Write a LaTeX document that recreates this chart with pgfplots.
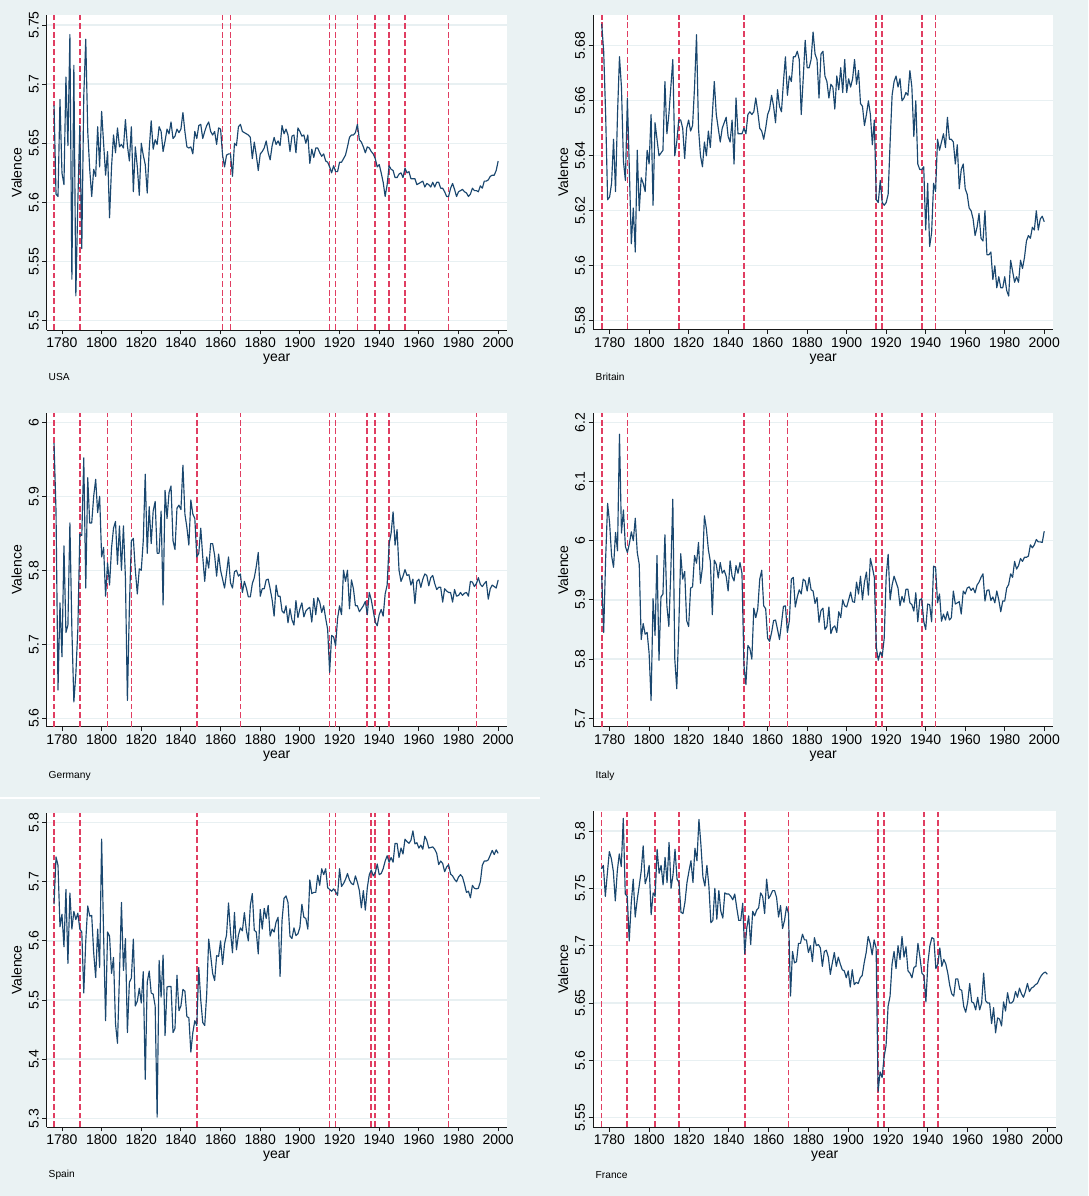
\documentclass[border=0pt]{standalone}
\usepackage{fontspec}
\setmainfont{Liberation Sans}
\usepackage{pgfplots}
\usepackage{pgfplotstable}
\pgfplotsset{compat=1.18}
\definecolor{bg}{RGB}{234,242,243}
\definecolor{gridc}{RGB}{232,240,242}
\definecolor{navyS}{RGB}{26,71,111}
\definecolor{vred}{RGB}{224,62,98}

\pgfplotstableread{
year usa bri ger ita spa fra
1776 5.682 5.688 5.972 5.940 5.662 5.767
1777 5.607 5.678 5.880 5.845 5.742 5.770
1778 5.605 5.655 5.638 5.970 5.728 5.743
1779 5.687 5.624 5.756 6.063 5.624 5.763
1780 5.625 5.625 5.683 6.030 5.645 5.782
1781 5.615 5.630 5.833 5.975 5.590 5.776
1782 5.706 5.646 5.716 5.955 5.687 5.765
1783 5.648 5.627 5.726 6.014 5.562 5.739
1784 5.742 5.655 5.864 5.983 5.681 5.765
1785 5.535 5.676 5.720 6.180 5.620 5.780
1786 5.716 5.665 5.622 6.013 5.650 5.769
1787 5.521 5.638 5.660 6.052 5.636 5.811
1788 5.600 5.631 5.720 5.990 5.647 5.745
1789 5.665 5.661 5.849 5.980 5.620 5.743
1790 5.561 5.635 5.847 5.995 5.615 5.704
1791 5.690 5.608 5.952 6.015 5.512 5.737
1792 5.738 5.621 5.776 6.000 5.600 5.758
1793 5.660 5.605 5.925 6.038 5.659 5.725
1794 5.628 5.642 5.864 5.980 5.642 5.740
1795 5.605 5.620 5.864 5.960 5.643 5.752
1796 5.628 5.632 5.900 5.833 5.580 5.765
1797 5.622 5.630 5.923 5.860 5.538 5.787
1798 5.664 5.627 5.878 5.842 5.620 5.754
1799 5.630 5.642 5.900 5.845 5.555 5.760
1800 5.677 5.637 5.818 5.810 5.772 5.770
1801 5.650 5.655 5.831 5.730 5.610 5.727
1802 5.623 5.622 5.765 5.902 5.465 5.746
1803 5.643 5.652 5.810 5.840 5.615 5.743
1804 5.587 5.646 5.780 5.975 5.608 5.784
1805 5.630 5.640 5.830 5.798 5.545 5.763
1806 5.657 5.641 5.857 5.905 5.572 5.770
1807 5.642 5.642 5.866 5.910 5.460 5.753
1808 5.663 5.667 5.808 6.010 5.427 5.777
1809 5.647 5.648 5.860 5.890 5.542 5.755
1810 5.649 5.655 5.800 5.855 5.665 5.790
1811 5.646 5.665 5.860 5.950 5.550 5.750
1812 5.670 5.675 5.790 6.070 5.604 5.762
1813 5.648 5.640 5.624 5.800 5.445 5.784
1814 5.635 5.645 5.750 5.750 5.530 5.758
1815 5.664 5.653 5.840 5.850 5.537 5.755
1816 5.609 5.653 5.843 5.978 5.603 5.729
1817 5.647 5.650 5.800 5.935 5.490 5.728
1818 5.630 5.639 5.768 5.948 5.498 5.738
1819 5.606 5.650 5.802 5.865 5.520 5.755
1820 5.650 5.653 5.800 5.855 5.495 5.765
1821 5.640 5.649 5.840 5.920 5.548 5.774
1822 5.632 5.651 5.930 5.922 5.366 5.755
1823 5.608 5.665 5.823 5.975 5.530 5.785
1824 5.645 5.684 5.886 5.962 5.549 5.774
1825 5.669 5.650 5.836 5.997 5.512 5.810
1826 5.645 5.640 5.880 5.928 5.510 5.788
1827 5.653 5.636 5.893 5.955 5.490 5.760
1828 5.649 5.645 5.823 6.042 5.302 5.752
1829 5.664 5.640 5.823 6.020 5.567 5.770
1830 5.660 5.649 5.880 5.985 5.505 5.752
1831 5.643 5.643 5.753 5.965 5.576 5.720
1832 5.652 5.655 5.908 5.875 5.440 5.722
1833 5.662 5.667 5.870 5.967 5.522 5.750
1834 5.658 5.655 5.905 5.960 5.523 5.723
1835 5.668 5.650 5.914 5.937 5.523 5.748
1836 5.654 5.645 5.840 5.963 5.445 5.730
1837 5.656 5.650 5.828 5.945 5.452 5.724
1838 5.662 5.652 5.884 5.950 5.542 5.746
1839 5.659 5.654 5.888 5.940 5.482 5.745
1840 5.662 5.647 5.882 5.915 5.490 5.745
1841 5.676 5.645 5.942 5.966 5.518 5.743
1842 5.660 5.653 5.876 5.940 5.515 5.740
1843 5.647 5.637 5.858 5.932 5.472 5.745
1844 5.646 5.661 5.834 5.958 5.470 5.733
1845 5.647 5.648 5.895 5.945 5.412 5.722
1846 5.641 5.648 5.876 5.963 5.445 5.722
1847 5.660 5.648 5.870 5.945 5.465 5.737
1848 5.654 5.650 5.818 5.790 5.457 5.693
1849 5.665 5.648 5.823 5.757 5.555 5.715
1850 5.666 5.655 5.857 5.823 5.500 5.726
1851 5.654 5.656 5.818 5.818 5.462 5.701
1852 5.660 5.655 5.785 5.800 5.457 5.730
1853 5.665 5.656 5.818 5.886 5.510 5.726
1854 5.668 5.661 5.803 5.870 5.603 5.731
1855 5.660 5.656 5.836 5.885 5.575 5.733
1856 5.657 5.650 5.836 5.935 5.545 5.746
1857 5.660 5.649 5.820 5.950 5.533 5.743
1858 5.649 5.646 5.792 5.890 5.575 5.728
1859 5.663 5.650 5.822 5.885 5.574 5.758
1860 5.662 5.655 5.800 5.835 5.600 5.741
1861 5.640 5.657 5.788 5.830 5.560 5.744
1862 5.630 5.662 5.776 5.845 5.595 5.748
1863 5.640 5.658 5.796 5.865 5.610 5.748
1864 5.641 5.652 5.818 5.866 5.664 5.742
1865 5.641 5.664 5.783 5.850 5.615 5.725
1866 5.622 5.658 5.776 5.833 5.580 5.735
1867 5.650 5.656 5.798 5.860 5.648 5.715
1868 5.648 5.667 5.800 5.889 5.585 5.722
1869 5.664 5.676 5.792 5.890 5.610 5.734
1870 5.666 5.662 5.795 5.845 5.622 5.728
1871 5.660 5.669 5.770 5.865 5.617 5.656
1872 5.659 5.667 5.785 5.935 5.648 5.695
1873 5.658 5.676 5.776 5.938 5.618 5.685
1874 5.657 5.676 5.764 5.888 5.600 5.686
1875 5.655 5.678 5.764 5.905 5.660 5.702
1876 5.637 5.675 5.782 5.917 5.680 5.702
1877 5.651 5.655 5.790 5.910 5.618 5.710
1878 5.640 5.668 5.805 5.935 5.615 5.705
1879 5.627 5.682 5.824 5.932 5.578 5.705
1880 5.641 5.672 5.765 5.915 5.653 5.694
1881 5.643 5.672 5.775 5.938 5.620 5.700
1882 5.646 5.675 5.775 5.917 5.655 5.686
1883 5.652 5.685 5.787 5.915 5.638 5.707
1884 5.642 5.677 5.788 5.894 5.660 5.700
1885 5.636 5.675 5.775 5.904 5.608 5.701
1886 5.648 5.661 5.760 5.862 5.620 5.698
1887 5.655 5.677 5.738 5.882 5.615 5.682
1888 5.649 5.678 5.780 5.886 5.632 5.695
1889 5.652 5.669 5.765 5.850 5.640 5.696
1890 5.648 5.667 5.765 5.855 5.540 5.690
1891 5.665 5.661 5.745 5.888 5.635 5.675
1892 5.658 5.666 5.742 5.843 5.672 5.685
1893 5.662 5.665 5.752 5.853 5.676 5.694
1894 5.657 5.657 5.729 5.856 5.665 5.682
1895 5.643 5.669 5.748 5.845 5.608 5.690
1896 5.656 5.664 5.733 5.880 5.604 5.684
1897 5.657 5.672 5.726 5.870 5.622 5.679
1898 5.642 5.663 5.759 5.900 5.609 5.678
1899 5.663 5.675 5.736 5.890 5.612 5.672
1900 5.660 5.663 5.748 5.888 5.623 5.678
1901 5.656 5.668 5.756 5.900 5.662 5.664
1902 5.657 5.665 5.737 5.913 5.640 5.679
1903 5.650 5.668 5.745 5.897 5.638 5.666
1904 5.657 5.675 5.748 5.896 5.620 5.668
1905 5.633 5.666 5.750 5.930 5.703 5.667
1906 5.645 5.671 5.730 5.910 5.680 5.672
1907 5.638 5.659 5.762 5.940 5.682 5.674
1908 5.646 5.658 5.740 5.900 5.682 5.685
1909 5.646 5.651 5.763 5.930 5.711 5.694
1910 5.642 5.655 5.757 5.947 5.694 5.708
1911 5.639 5.660 5.743 5.908 5.722 5.702
1912 5.641 5.655 5.752 5.970 5.712 5.692
1913 5.635 5.644 5.735 5.955 5.722 5.705
1914 5.634 5.653 5.720 5.938 5.690 5.698
1915 5.630 5.624 5.662 5.820 5.687 5.573
1916 5.625 5.623 5.712 5.798 5.684 5.590
1917 5.631 5.631 5.710 5.812 5.688 5.585
1918 5.626 5.623 5.698 5.805 5.683 5.603
1919 5.626 5.622 5.735 5.835 5.677 5.613
1920 5.634 5.623 5.752 5.940 5.722 5.647
1921 5.634 5.626 5.740 5.977 5.692 5.656
1922 5.637 5.645 5.800 5.900 5.697 5.684
1923 5.640 5.662 5.785 5.925 5.704 5.695
1924 5.647 5.667 5.800 5.940 5.714 5.680
1925 5.655 5.669 5.748 5.930 5.703 5.700
1926 5.657 5.665 5.787 5.920 5.697 5.688
1927 5.657 5.668 5.775 5.890 5.695 5.708
1928 5.659 5.660 5.752 5.906 5.710 5.690
1929 5.666 5.661 5.752 5.896 5.699 5.699
1930 5.653 5.663 5.744 5.918 5.685 5.678
1931 5.651 5.662 5.748 5.918 5.656 5.676
1932 5.647 5.671 5.752 5.895 5.685 5.672
1933 5.642 5.665 5.758 5.892 5.652 5.681
1934 5.647 5.647 5.740 5.881 5.690 5.682
1935 5.646 5.660 5.770 5.912 5.712 5.702
1936 5.643 5.637 5.760 5.863 5.720 5.690
1937 5.641 5.635 5.745 5.900 5.710 5.676
1938 5.637 5.635 5.730 5.902 5.715 5.674
1939 5.630 5.636 5.725 5.864 5.730 5.651
1940 5.632 5.613 5.740 5.850 5.712 5.685
1941 5.625 5.630 5.747 5.893 5.714 5.700
1942 5.617 5.607 5.738 5.892 5.722 5.707
1943 5.605 5.612 5.768 5.863 5.735 5.706
1944 5.615 5.630 5.780 5.957 5.744 5.680
1945 5.631 5.627 5.836 5.955 5.733 5.684
1946 5.628 5.646 5.850 5.895 5.741 5.698
1947 5.627 5.642 5.879 5.910 5.733 5.682
1948 5.621 5.645 5.834 5.864 5.765 5.688
1949 5.621 5.648 5.855 5.876 5.765 5.684
1950 5.624 5.643 5.800 5.866 5.741 5.676
1951 5.625 5.654 5.785 5.880 5.757 5.665
1952 5.621 5.646 5.792 5.866 5.747 5.658
1953 5.629 5.646 5.801 5.870 5.772 5.656
1954 5.625 5.645 5.793 5.915 5.768 5.671
1955 5.626 5.637 5.794 5.893 5.765 5.671
1956 5.620 5.644 5.780 5.895 5.770 5.662
1957 5.620 5.628 5.788 5.897 5.786 5.661
1958 5.620 5.635 5.755 5.876 5.764 5.647
1959 5.615 5.637 5.785 5.915 5.766 5.642
1960 5.616 5.628 5.788 5.910 5.757 5.651
1961 5.617 5.626 5.777 5.920 5.762 5.667
1962 5.618 5.621 5.788 5.922 5.755 5.651
1963 5.613 5.620 5.795 5.916 5.777 5.650
1964 5.616 5.617 5.793 5.920 5.770 5.644
1965 5.615 5.611 5.779 5.912 5.757 5.655
1966 5.613 5.614 5.790 5.925 5.758 5.644
1967 5.617 5.619 5.793 5.930 5.759 5.650
1968 5.613 5.610 5.782 5.938 5.755 5.676
1969 5.617 5.609 5.774 5.944 5.748 5.652
1970 5.617 5.620 5.777 5.898 5.729 5.650
1971 5.612 5.604 5.777 5.916 5.735 5.650
1972 5.612 5.604 5.757 5.917 5.731 5.632
1973 5.609 5.605 5.775 5.899 5.717 5.646
1974 5.605 5.595 5.772 5.905 5.725 5.624
1975 5.605 5.600 5.770 5.895 5.729 5.637
1976 5.612 5.592 5.770 5.915 5.713 5.636
1977 5.616 5.596 5.757 5.900 5.710 5.630
1978 5.611 5.592 5.774 5.880 5.704 5.651
1979 5.605 5.592 5.765 5.898 5.700 5.643
1980 5.609 5.596 5.766 5.898 5.708 5.659
1981 5.610 5.591 5.770 5.920 5.712 5.650
1982 5.611 5.589 5.766 5.926 5.708 5.650
1983 5.609 5.602 5.769 5.944 5.696 5.652
1984 5.608 5.598 5.770 5.938 5.682 5.660
1985 5.605 5.594 5.765 5.965 5.684 5.655
1986 5.607 5.596 5.785 5.952 5.673 5.663
1987 5.612 5.594 5.784 5.958 5.694 5.658
1988 5.610 5.602 5.778 5.970 5.689 5.655
1989 5.610 5.599 5.782 5.965 5.688 5.660
1990 5.609 5.603 5.790 5.972 5.689 5.667
1991 5.614 5.609 5.781 5.972 5.700 5.660
1992 5.612 5.611 5.778 5.974 5.728 5.663
1993 5.618 5.610 5.782 5.993 5.735 5.664
1994 5.618 5.614 5.785 5.988 5.735 5.666
1995 5.619 5.613 5.761 5.993 5.737 5.667
1996 5.622 5.620 5.775 6.002 5.745 5.671
1997 5.623 5.613 5.780 5.998 5.753 5.674
1998 5.623 5.617 5.778 5.998 5.746 5.676
1999 5.627 5.618 5.776 5.997 5.754 5.677
2000 5.635 5.616 5.787 6.016 5.748 5.675
}\datatable

\pgfplotsset{
  panel/.style={
    scale only axis,
    anchor=south west,
    axis x line*=bottom, axis y line*=left,
    axis line style={-, line width=0.9pt, black!90},
    major tick style={line width=0.9pt, black!90},
    major tick length=4.5pt,
    tick align=outside,
    xtick={1780,1800,...,2000},
    scaled ticks=false,
    /pgf/number format/assume math mode=true,
    x tick label style={/pgf/number format/1000 sep={}},
    tick label style={font=\fontsize{14}{16}\selectfont, text=black},
    yticklabel style={rotate=90, anchor=south},
    ymajorgrids, grid style={line width=1.4pt, color=gridc},
    axis background/.style={fill=white},
    xlabel={year}, ylabel={Valence},
    every axis x label/.style={at={([yshift=-29.5pt]axis description cs:0.5,0)}, anchor=center, font=\fontsize{14}{16}\selectfont},
    every axis y label/.style={at={([xshift=-30pt]axis description cs:0,0.5)}, anchor=center, rotate=90, font=\fontsize{14}{16}\selectfont},
  },
  vplot/.style={color=vred, line width=1.7pt, dash pattern=on 5.8pt off 2.8pt, no markers, forget plot},
  dline/.style={color=navyS, line width=1.15pt, line join=round, no markers},
}

\begin{document}
\begin{tikzpicture}[x=1pt,y=1pt]
\fill[bg] (0,0) rectangle (1088,1196);
\draw[white, line width=2pt] (0,398) -- (540,398);

% USA
\begin{axis}[panel, at={(46.7pt,866pt)}, width=460pt, height=315pt,
  xmin=1772.3, xmax=2004.3, ymin=5.4921, ymax=5.7585,
  ytick={5.5,5.55,5.6,5.65,5.7,5.75}]
\pgfplotsinvokeforeach{1776,1789,1861,1865,1915,1918,1929,1938,1945,1953,1975}{
  \addplot[vplot] coordinates {(#1,5.4921) (#1,5.7585)};}
\addplot[dline] table[x=year,y=usa] {\datatable};
\end{axis}

% Britain
\begin{axis}[panel, at={(593pt,866.7pt)}, width=460.3pt, height=314.3pt,
  xmin=1771.6, xmax=2004.6, ymin=5.5769, ymax=5.6912,
  ytick={5.58,5.6,5.62,5.64,5.66,5.68}]
\pgfplotsinvokeforeach{1776,1789,1815,1848,1915,1918,1938,1945}{
  \addplot[vplot] coordinates {(#1,5.5769) (#1,5.6912)};}
\addplot[dline] table[x=year,y=bri] {\datatable};
\end{axis}

% Germany
\begin{axis}[panel, at={(46.7pt,469.3pt)}, width=460pt, height=314pt,
  xmin=1772.3, xmax=2004.3, ymin=5.5886, ymax=6.013,
  ytick={5.6,5.7,5.8,5.9,6}]
\pgfplotsinvokeforeach{1776,1789,1803,1815,1848,1870,1915,1918,1934,1938,1945,1989}{
  \addplot[vplot] coordinates {(#1,5.5886) (#1,6.013)};}
\addplot[dline] table[x=year,y=ger] {\datatable};
\end{axis}

% Italy
\begin{axis}[panel, at={(593pt,469.3pt)}, width=460.3pt, height=313.4pt,
  xmin=1771.6, xmax=2004.6, ymin=5.6858, ymax=6.2152,
  ytick={5.7,5.8,5.9,6,6.1,6.2}]
\pgfplotsinvokeforeach{1776,1789,1848,1861,1870,1915,1918,1938,1945}{
  \addplot[vplot] coordinates {(#1,5.6858) (#1,6.2152)};}
\addplot[dline] table[x=year,y=ita] {\datatable};
\end{axis}

% Spain
\begin{axis}[panel, at={(46.7pt,69pt)}, width=460pt, height=313.7pt,
  xmin=1772.3, xmax=2004.3, ymin=5.2853, ymax=5.8158,
  ytick={5.3,5.4,5.5,5.6,5.7,5.8}]
\pgfplotsinvokeforeach{1776,1789,1848,1915,1918,1936,1938,1945,1975}{
  \addplot[vplot] coordinates {(#1,5.2853) (#1,5.8158)};}
\addplot[dline] table[x=year,y=spa] {\datatable};
\end{axis}

% France
\begin{axis}[panel, at={(593pt,69pt)}, width=463.3pt, height=316pt,
  xmin=1771.8, xmax=2004.5, ymin=5.5419, ymax=5.8174,
  ytick={5.55,5.6,5.65,5.7,5.75,5.8}]
\pgfplotsinvokeforeach{1776,1789,1803,1815,1848,1870,1915,1918,1938,1945}{
  \addplot[vplot] coordinates {(#1,5.5419) (#1,5.8174)};}
\addplot[dline] table[x=year,y=fra] {\datatable};
\end{axis}

\begin{scope}[every node/.style={anchor=west, inner sep=0pt, font=\fontsize{10.2}{12}\selectfont}]
\node at (48.5,819) {USA};
\node at (595.5,819) {Britain};
\node at (48.5,420.3) {Germany};
\node at (595.5,420.3) {Italy};
\node at (48.5,21) {Spain};
\node at (595.5,21) {France};
\end{scope}
\pgfresetboundingbox
\useasboundingbox (0,0) rectangle (1088,1196);
\end{tikzpicture}
\end{document}
